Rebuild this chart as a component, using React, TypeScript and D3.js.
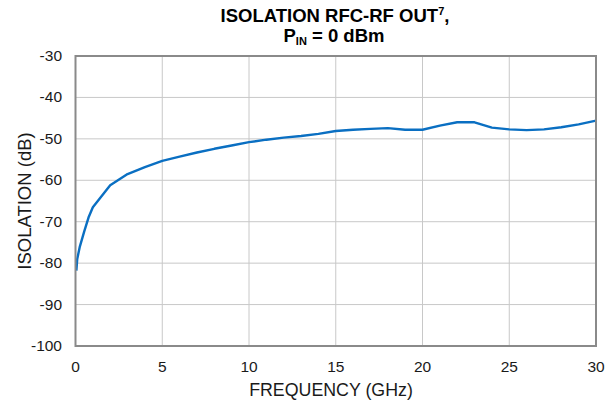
import React, { useEffect, useRef } from 'react'
import * as d3 from 'd3'

const freqGHz = [0.05, 0.1, 0.25, 0.5, 0.75, 1, 2, 3, 4, 5, 6, 7, 8, 9, 10, 11, 12, 13, 14, 15, 16, 17, 18, 19, 20, 21, 22, 23, 24, 25, 26, 27, 28, 29, 30]
const isolationDb = [-81.8, -79.0, -76.0, -72.4, -69.0, -66.5, -61.2, -58.5, -56.8, -55.3, -54.3, -53.3, -52.4, -51.6, -50.8, -50.2, -49.7, -49.3, -48.8, -48.1, -47.8, -47.6, -47.4, -47.8, -47.8, -46.8, -46.0, -46.0, -47.3, -47.7, -47.9, -47.7, -47.2, -46.5, -45.6]
const xTicks = [0, 5, 10, 15, 20, 25, 30]
const yTicks = [-100, -90, -80, -70, -60, -50, -40, -30]

const App = () => {
    const svgRef = useRef<SVGSVGElement>(null)

    useEffect(() => {
        const width = 614
        const height = 404
        const m = { left: 75.5, right: 596, top: 56, bottom: 346 }

        const svg = d3.select(svgRef.current)
        svg.selectAll('*').remove()
        svg.attr('width', width).attr('height', height)

        const x = d3.scaleLinear().domain([0, 30]).range([m.left, m.right])
        const y = d3.scaleLinear().domain([-100, -30]).range([m.bottom, m.top])
        const font = 'Liberation Sans, Arial, sans-serif'

        // grid
        svg.append('g')
            .selectAll('line')
            .data(xTicks.slice(1, -1))
            .enter()
            .append('line')
            .attr('x1', d => x(d)).attr('x2', d => x(d))
            .attr('y1', m.top).attr('y2', m.bottom)
            .attr('stroke', '#c8c8c8').attr('stroke-width', 1)

        svg.append('g')
            .selectAll('line')
            .data(yTicks.slice(1, -1))
            .enter()
            .append('line')
            .attr('x1', m.left).attr('x2', m.right)
            .attr('y1', d => y(d)).attr('y2', d => y(d))
            .attr('stroke', '#c8c8c8').attr('stroke-width', 1)

        // curve
        const line = d3.line<number>()
            .x((d, i) => x(freqGHz[i]))
            .y(d => y(d))

        svg.append('path')
            .datum(isolationDb)
            .attr('d', line)
            .attr('fill', 'none')
            .attr('stroke', '#0a6fc2')
            .attr('stroke-width', 2.4)
            .attr('stroke-linejoin', 'round')

        // frame
        svg.append('rect')
            .attr('x', m.left).attr('y', m.top)
            .attr('width', m.right - m.left).attr('height', m.bottom - m.top)
            .attr('fill', 'none').attr('stroke', '#8a8a8a').attr('stroke-width', 2)

        // tick labels
        svg.append('g')
            .selectAll('text')
            .data(xTicks)
            .enter()
            .append('text')
            .attr('x', d => x(d)).attr('y', 372)
            .attr('text-anchor', 'middle')
            .attr('font-family', font).attr('font-size', 15.5).attr('fill', '#1a1a1a')
            .text(d => d)

        svg.append('g')
            .selectAll('text')
            .data(yTicks)
            .enter()
            .append('text')
            .attr('x', 62).attr('y', d => y(d) + 5)
            .attr('text-anchor', 'end')
            .attr('font-family', font).attr('font-size', 15.5).attr('fill', '#1a1a1a')
            .text(d => d)

        // axis titles
        svg.append('text')
            .attr('x', 331).attr('y', 396)
            .attr('text-anchor', 'middle')
            .attr('font-family', font).attr('font-size', 17.8).attr('fill', '#1a1a1a')
            .text('FREQUENCY (GHz)')

        svg.append('text')
            .attr('transform', `translate(30.5,${(m.top + m.bottom) / 2}) rotate(-90)`)
            .attr('text-anchor', 'middle')
            .attr('font-family', font).attr('font-size', 18.5).attr('fill', '#1a1a1a')
            .text('ISOLATION (dB)')

        // title
        const t1 = svg.append('text')
            .attr('x', 335).attr('y', 21.5)
            .attr('text-anchor', 'middle')
            .attr('font-family', font).attr('font-size', 18.5).attr('font-weight', 'bold').attr('fill', '#000')
        t1.append('tspan').text('ISOLATION RFC-RF OUT')
        t1.append('tspan').attr('font-size', 11).attr('dy', -7).text('7')
        t1.append('tspan').attr('dy', 7).text(',')

        const t2 = svg.append('text')
            .attr('x', 334).attr('y', 41.5)
            .attr('text-anchor', 'middle')
            .attr('font-family', font).attr('font-size', 18.5).attr('font-weight', 'bold').attr('fill', '#000')
        t2.append('tspan').text('P')
        t2.append('tspan').attr('font-size', 11).attr('dy', 3).text('IN')
        t2.append('tspan').attr('dy', -3).text(' = 0 dBm')
    }, [])

    return (
        <div style={{ position: 'absolute', left: 0, top: 0 }}>
            <svg ref={svgRef}></svg>
        </div>
    )
}

export default App
